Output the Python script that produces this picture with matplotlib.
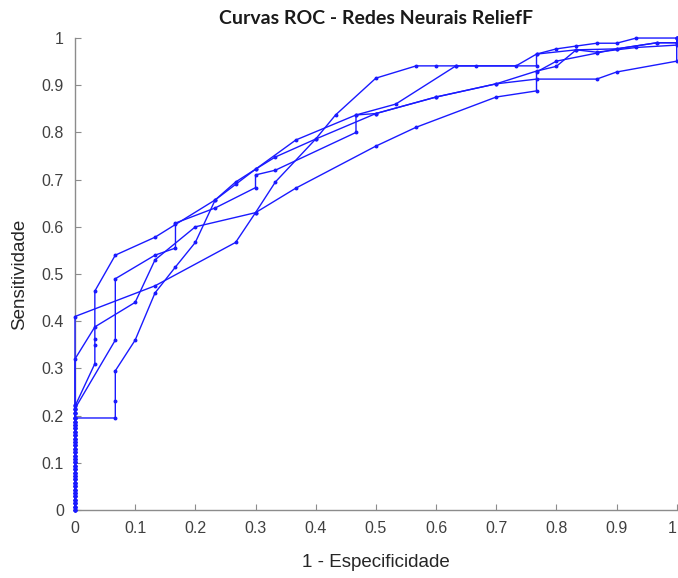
import matplotlib
matplotlib.use("Agg")
import matplotlib.pyplot as plt

# eixo y em x=0 (pontos iniciais de cada curva)
y_zero = [0, 0.007, 0.014, 0.022, 0.029, 0.036, 0.043, 0.050, 0.058, 0.065, 0.072,
          0.079, 0.086, 0.094, 0.101, 0.108, 0.115, 0.122, 0.130, 0.137, 0.144,
          0.151, 0.158, 0.166, 0.173, 0.180, 0.187, 0.195, 0.205, 0.215, 0.222]

fpr_1 = [0.133, 0.267, 0.300, 0.367, 0.500, 0.567, 0.700, 0.767, 0.767, 0.800, 0.867, 0.900, 0.967, 1.000, 1.000]
tpr_1 = [0.475, 0.567, 0.630, 0.682, 0.771, 0.811, 0.875, 0.888, 0.928, 0.951, 0.968, 0.977, 0.990, 0.990, 1.000]
start_1 = 0.41

fpr_2 = [0.000, 0.067, 0.067, 0.067, 0.100, 0.133, 0.167, 0.200, 0.233, 0.267, 0.300, 0.333, 0.400, 0.500,
         0.600, 0.700, 0.767, 0.867, 0.900, 1.000, 1.000]
tpr_2 = [0.195, 0.195, 0.230, 0.295, 0.360, 0.460, 0.515, 0.567, 0.657, 0.695, 0.722, 0.748, 0.786, 0.840,
         0.875, 0.903, 0.913, 0.913, 0.928, 0.951, 1.000]
start_2 = 0.195

fpr_3 = [0.033, 0.033, 0.033, 0.033, 0.067, 0.133, 0.167, 0.233, 0.267, 0.300, 0.367, 0.467, 0.533,
         0.633, 0.733, 0.767, 0.800, 0.833, 0.867, 0.900, 0.933, 1.000]
tpr_3 = [0.310, 0.350, 0.362, 0.464, 0.540, 0.578, 0.605, 0.657, 0.690, 0.722, 0.784, 0.837, 0.860,
         0.941, 0.941, 0.966, 0.977, 0.983, 0.989, 0.989, 1.000, 1.000]
start_3 = 0.22

fpr_4 = [0.067, 0.067, 0.133, 0.167, 0.167, 0.233, 0.300, 0.300, 0.333, 0.467, 0.467, 0.500, 0.600,
         0.700, 0.767, 0.800, 0.833, 0.867, 0.933, 1.000, 1.000]
tpr_4 = [0.360, 0.490, 0.540, 0.555, 0.608, 0.640, 0.683, 0.710, 0.720, 0.800, 0.837, 0.840, 0.875,
         0.903, 0.930, 0.940, 0.975, 0.970, 0.980, 0.985, 1.000]
start_4 = 0.215

fpr_5 = [0.033, 0.100, 0.133, 0.200, 0.300, 0.333, 0.400, 0.433, 0.500, 0.567, 0.600, 0.633, 0.667,
         0.767, 0.767, 0.833, 0.900, 0.967, 1.000, 1.000]
tpr_5 = [0.388, 0.440, 0.530, 0.600, 0.630, 0.695, 0.786, 0.837, 0.915, 0.941, 0.941, 0.941, 0.941,
         0.941, 0.966, 0.975, 0.977, 0.990, 0.990, 1.000]
start_5 = 0.32

tick_vals = [0, 0.1, 0.2, 0.3, 0.4, 0.5, 0.6, 0.7, 0.8, 0.9, 1]
tick_text = ['0', '0.1', '0.2', '0.3', '0.4', '0.5', '0.6', '0.7', '0.8', '0.9', '1']

curves = [(start_1, fpr_1, tpr_1), (start_2, fpr_2, tpr_2), (start_3, fpr_3, tpr_3),
          (start_4, fpr_4, tpr_4), (start_5, fpr_5, tpr_5)]

fig = plt.figure(figsize=(6.78, 5.78), dpi=100)
ax = fig.add_axes([0.1106, 0.1176, 0.8875, 0.8166])

for start, fx, fy in curves:
    ys = [v for v in y_zero if v < start] + [start]
    xs = [0.0] * len(ys) + list(fx)
    ys = ys + list(fy)
    ax.plot(xs, ys, color='#1a1aff', linewidth=1.0, marker='o', markersize=1.8,
            clip_on=False, zorder=3)

ax.set_xlim(0, 1)
ax.set_ylim(0, 1)
ax.set_xticks(tick_vals)
ax.set_yticks(tick_vals)
ax.set_xticklabels(tick_text)
ax.set_yticklabels(tick_text)

for side in ['top', 'right']:
    ax.spines[side].set_visible(False)
for side in ['left', 'bottom']:
    ax.spines[side].set_color('#8c8c8c')
    ax.spines[side].set_linewidth(1.0)

ax.tick_params(direction='in', length=4, color='#8c8c8c', labelcolor='#404040',
               labelsize=11.5, pad=8)
for lbl in ax.get_xticklabels() + ax.get_yticklabels():
    lbl.set_family('Liberation Sans')
# o "1" do eixo x fica encostado na borda direita
ax.get_xticklabels()[-1].set_horizontalalignment('right')

ax.set_xlabel('1 - Especificidade', fontsize=13.5, family='Liberation Sans', color='#262626', labelpad=13)
ax.set_ylabel('Sensitividade', fontsize=13.5, family='Liberation Sans', color='#262626', labelpad=10)
ax.set_title('Curvas ROC - Redes Neurais ReliefF', fontsize=14, fontweight='bold',
             family='Lato', color='#1a1a1a', pad=10)

fig.savefig('out.png', dpi=100)
